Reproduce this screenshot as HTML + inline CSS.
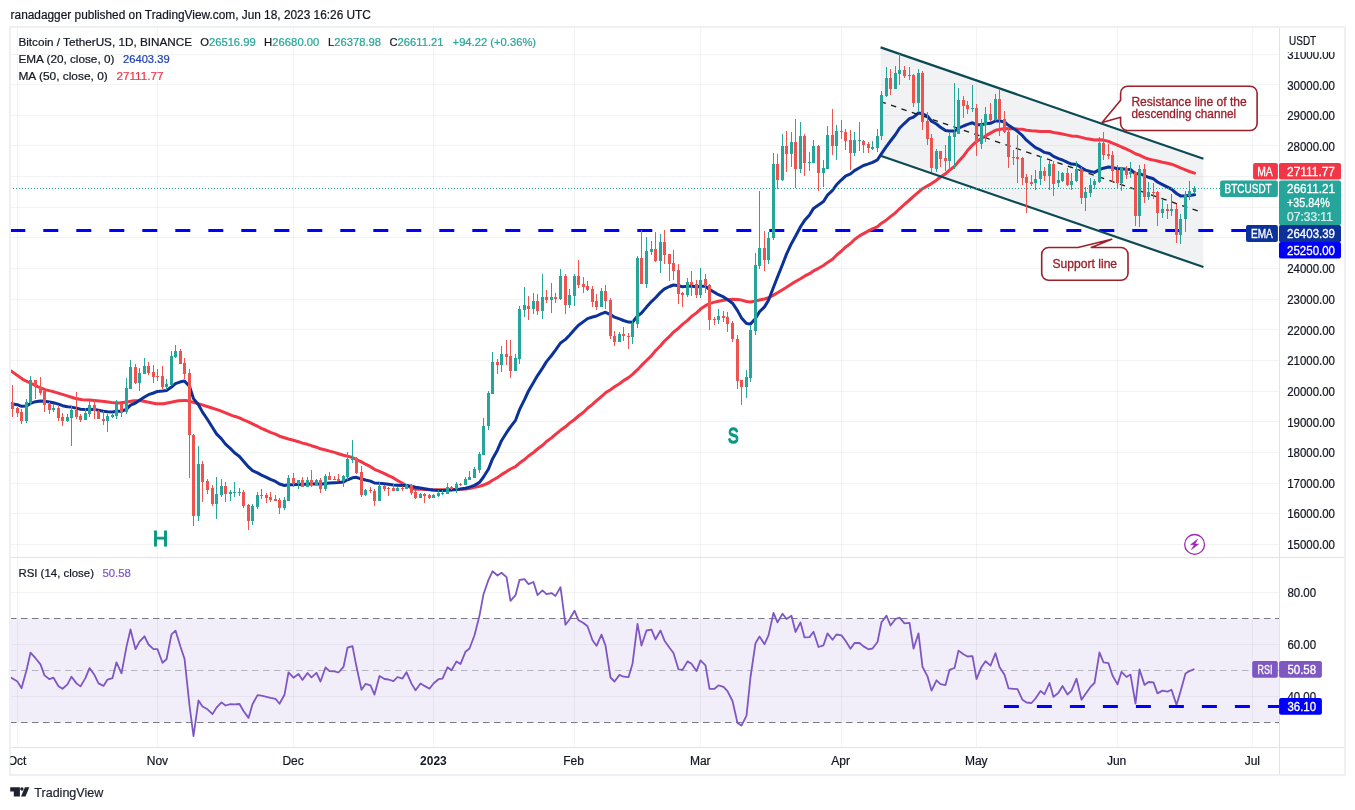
<!DOCTYPE html><html><head><meta charset="utf-8"><title>BTCUSDT chart</title><style>html,body{margin:0;padding:0;background:#fff}</style></head><body><svg width="1355" height="810" viewBox="0 0 1355 810" style="display:block;font-family:'Liberation Sans',sans-serif">
<rect width="1355" height="810" fill="#fff"/>
<defs><clipPath id="cm"><rect x="10" y="27" width="1269.5" height="530"/></clipPath><clipPath id="cr"><rect x="10" y="558" width="1269.5" height="189.5"/></clipPath><clipPath id="ct"><rect x="10.5" y="748" width="1269" height="27"/></clipPath><clipPath id="cp"><rect x="1280" y="52" width="65" height="500"/></clipPath></defs>
<path d="M17.5 27V747 M157.5 27V747 M293.5 27V747 M433.5 27V747 M574.5 27V747 M700.5 27V747 M841.5 27V747 M976.5 27V747 M1117.5 27V747 M1252.5 27V747" stroke="rgba(42,46,57,0.06)" stroke-width="1" fill="none"/>
<path d="M10 544.5H1279 M10 513.5H1279 M10 483.5H1279 M10 452.5H1279 M10 421.5H1279 M10 391.5H1279 M10 360.5H1279 M10 329.5H1279 M10 299.5H1279 M10 268.5H1279 M10 237.5H1279 M10 207.5H1279 M10 176.5H1279 M10 145.5H1279 M10 115.5H1279 M10 84.5H1279 M10 54.5H1279 M10 696.5H1279 M10 644.5H1279 M10 592.5H1279" stroke="rgba(42,46,57,0.06)" stroke-width="1" fill="none"/>
<rect x="10" y="618.5" width="1269.5" height="104.0" fill="#7e57c2" fill-opacity="0.1"/>
<path d="M10 618.5H1279.5M10 722.5H1279.5" stroke="#787b86" stroke-width="1" stroke-dasharray="6.5 4.5" fill="none"/>
<path d="M10 670.5H1279.5" stroke="#787b86" stroke-opacity="0.5" stroke-width="1" stroke-dasharray="6.5 4.5" fill="none"/>
<g clip-path="url(#cm)">
<path d="M880.6 47.4L1203.4 158.7L1203.4 267.0L880.6 155.8Z" fill="#787b86" fill-opacity="0.1"/>
<path d="M10.3 230.5H1246" stroke="#0000ff" stroke-width="3" stroke-dasharray="15 18" fill="none"/>
<path d="M5.0 366.5L10.2 370.4L22.8 379.3L30.2 383.0L37.6 386.7L45.0 389.6L52.4 391.4L59.9 393.6L67.3 395.9L74.7 398.2L82.1 399.7L89.5 400.0L96.9 400.7L104.3 401.6L111.7 402.5L119.1 403.0L126.5 401.9L133.9 400.7L141.3 400.7L148.7 402.2L156.1 403.7L163.6 403.7L171.0 402.2L178.4 400.7L185.8 400.4L193.2 402.2L200.6 404.4L208.0 406.7L219.4 410.4L231.7 415.3L234.5 416.3L239.5 417.9L243.5 419.8L248.5 421.8L252.5 423.9L257.5 426.2L261.5 428.4L266.5 430.5L270.5 432.4L275.5 434.2L279.5 436.2L284.5 437.8L288.5 439.0L293.5 440.3L298.5 441.7L302.5 443.1L307.5 444.3L311.5 445.7L316.5 447.2L320.5 448.8L325.5 450.0L329.5 451.1L334.5 452.4L338.5 453.7L343.5 455.2L347.5 456.1L352.5 457.5L356.5 459.6L361.5 461.9L365.5 464.2L370.5 466.7L374.5 469.3L379.5 471.4L384.5 473.7L388.5 475.7L393.5 477.9L397.5 480.5L402.5 483.2L406.5 485.7L411.5 488.0L415.5 489.3L420.5 488.9L424.5 489.5L429.5 489.8L433.5 489.9L438.5 489.7L442.5 489.7L447.5 489.7L451.5 489.6L456.5 489.4L460.5 489.3L465.5 489.0L469.5 488.5L474.5 487.4L479.5 486.4L483.5 485.0L488.5 483.0L492.5 480.3L497.5 477.5L501.5 474.6L506.5 471.6L510.5 469.0L515.5 466.6L519.5 463.1L524.5 459.6L528.5 456.0L533.5 452.5L537.5 449.0L542.5 445.3L546.5 441.5L551.5 437.9L555.5 434.3L560.5 430.3L565.5 426.8L569.5 423.1L574.5 419.5L578.5 416.0L583.5 412.3L587.5 408.2L592.5 404.4L596.5 400.7L601.5 396.5L605.5 392.8L610.5 389.7L614.5 386.8L619.5 383.7L623.5 380.6L628.5 377.6L632.5 374.4L637.5 369.7L641.5 365.4L646.5 360.5L651.5 355.6L655.5 350.8L660.5 345.8L664.5 341.0L669.5 336.4L673.5 332.1L678.5 328.2L682.5 324.4L687.5 320.4L691.5 316.5L696.5 312.9L700.5 309.1L705.5 305.7L709.5 303.6L714.5 302.1L718.5 301.2L723.5 300.3L727.5 299.7L732.5 299.3L737.5 299.5L741.5 300.1L746.5 301.5L750.5 302.0L755.5 301.1L759.5 300.0L764.5 299.0L768.5 297.8L773.5 295.1L777.5 292.8L782.5 289.7L786.5 287.3L791.5 284.0L795.5 281.5L800.5 278.7L804.5 276.2L809.5 273.7L813.5 270.9L818.5 268.3L823.5 265.5L827.5 262.4L832.5 259.3L836.5 255.2L841.5 251.0L845.5 247.1L850.5 243.5L854.5 239.5L859.5 235.9L863.5 233.6L868.5 230.9L872.5 228.8L877.5 226.6L881.5 223.2L886.5 219.9L890.5 216.6L895.5 212.8L899.5 208.8L904.5 204.4L909.5 200.0L913.5 196.4L918.5 192.2L922.5 188.7L927.5 185.9L931.5 183.6L936.5 180.2L940.5 177.0L945.5 173.8L949.5 170.2L954.5 166.4L958.5 161.6L963.5 156.1L967.5 150.5L972.5 145.1L976.5 141.4L981.5 138.6L985.5 135.9L990.5 133.1L995.5 130.3L999.5 129.5L1004.5 128.5L1008.5 128.7L1013.5 128.8L1017.5 129.1L1022.5 129.3L1026.5 130.2L1031.5 130.7L1035.5 131.0L1040.5 131.5L1044.5 131.6L1049.5 131.5L1053.5 132.5L1058.5 133.2L1062.5 134.0L1067.5 135.1L1071.5 135.9L1076.5 136.2L1081.5 137.4L1085.5 138.4L1090.5 139.2L1094.5 139.9L1099.5 139.8L1103.5 140.1L1108.5 141.4L1112.5 143.2L1117.5 145.1L1121.5 147.0L1126.5 149.1L1130.5 151.0L1135.5 153.8L1139.5 155.1L1144.5 157.6L1148.5 159.0L1153.5 160.1L1157.5 161.0L1162.5 162.2L1167.5 163.2L1171.5 164.2L1176.5 166.2L1180.5 167.9L1185.5 169.8L1189.5 171.5L1194.5 173.1" stroke="#f23645" stroke-width="3" fill="none" stroke-linejoin="round" stroke-linecap="round"/>
<path d="M5.0 403.0L12.5 403.9L17.5 404.7L21.5 406.3L26.5 405.9L30.5 403.4L35.5 401.7L40.5 400.9L44.5 401.3L49.5 402.1L53.5 402.7L58.5 404.1L62.5 405.7L67.5 406.8L71.5 407.1L76.5 408.1L80.5 409.2L85.5 409.6L89.5 409.2L94.5 409.4L98.5 410.2L103.5 411.2L107.5 411.7L112.5 412.0L116.5 411.3L121.5 411.3L126.5 409.1L130.5 405.1L135.5 403.0L139.5 400.2L144.5 397.0L148.5 394.7L153.5 393.0L157.5 391.4L162.5 391.0L166.5 390.4L171.5 387.1L175.5 383.7L180.5 381.8L184.5 381.1L189.5 386.2L193.5 398.6L198.5 404.8L202.5 412.1L207.5 419.5L212.5 427.5L216.5 433.9L221.5 438.9L225.5 444.1L230.5 448.6L234.5 452.8L239.5 456.5L243.5 461.2L248.5 466.9L252.5 470.6L257.5 472.9L261.5 475.1L266.5 477.3L270.5 479.4L275.5 481.4L279.5 484.0L284.5 485.5L288.5 484.8L293.5 484.7L298.5 484.3L302.5 484.5L307.5 484.1L311.5 484.1L316.5 483.8L320.5 484.3L325.5 483.5L329.5 483.1L334.5 482.8L338.5 482.6L343.5 482.0L347.5 479.8L352.5 477.8L356.5 477.3L361.5 479.0L365.5 480.0L370.5 481.1L374.5 483.0L379.5 483.3L384.5 483.8L388.5 484.3L393.5 484.9L397.5 485.2L402.5 485.6L406.5 485.5L411.5 486.2L415.5 487.3L420.5 488.0L424.5 488.7L429.5 489.6L433.5 490.1L438.5 490.4L442.5 490.6L447.5 490.3L451.5 490.1L456.5 489.5L460.5 489.1L465.5 488.2L469.5 487.1L474.5 485.4L479.5 482.4L483.5 477.0L488.5 469.0L492.5 458.9L497.5 449.9L501.5 440.7L506.5 432.7L510.5 426.8L515.5 420.3L519.5 409.7L524.5 399.7L528.5 391.0L533.5 382.5L537.5 375.6L542.5 368.1L546.5 361.6L551.5 355.5L555.5 350.1L560.5 343.0L565.5 339.4L569.5 335.2L574.5 329.6L578.5 325.3L583.5 321.6L587.5 318.6L592.5 317.0L596.5 316.0L601.5 313.6L605.5 312.3L610.5 314.6L614.5 317.2L619.5 318.9L623.5 320.5L628.5 322.1L632.5 322.2L637.5 316.0L641.5 313.0L646.5 307.1L651.5 301.6L655.5 297.7L660.5 292.4L664.5 288.8L669.5 286.5L673.5 285.0L678.5 285.8L682.5 286.7L687.5 286.2L691.5 286.1L696.5 287.0L700.5 286.3L705.5 286.3L709.5 289.5L714.5 292.4L718.5 294.7L723.5 296.9L727.5 299.5L732.5 303.2L737.5 310.6L741.5 317.9L746.5 323.5L750.5 324.1L755.5 318.5L759.5 311.8L764.5 306.9L768.5 300.3L773.5 287.3L777.5 277.0L782.5 264.5L786.5 254.1L791.5 243.4L795.5 236.3L800.5 226.7L804.5 220.6L809.5 215.0L813.5 208.4L818.5 205.0L823.5 201.5L827.5 195.1L832.5 190.4L836.5 184.8L841.5 179.8L845.5 176.1L850.5 173.9L854.5 170.6L859.5 167.7L863.5 165.5L868.5 163.9L872.5 162.3L877.5 159.8L881.5 153.6L886.5 146.4L890.5 141.0L895.5 134.5L899.5 128.3L904.5 123.3L909.5 118.7L913.5 117.2L918.5 113.0L922.5 113.8L927.5 116.2L931.5 121.2L936.5 124.0L940.5 127.3L945.5 130.5L949.5 131.0L954.5 131.1L958.5 128.2L963.5 126.0L967.5 124.4L972.5 122.8L976.5 124.8L981.5 124.7L985.5 123.7L990.5 123.3L995.5 121.0L999.5 120.9L1004.5 122.0L1008.5 125.3L1013.5 128.4L1017.5 131.3L1022.5 135.7L1026.5 140.2L1031.5 144.4L1035.5 147.7L1040.5 149.9L1044.5 152.4L1049.5 153.5L1053.5 156.4L1058.5 158.6L1062.5 160.0L1067.5 162.4L1071.5 164.1L1076.5 164.6L1081.5 167.8L1085.5 170.1L1090.5 171.5L1094.5 172.4L1099.5 169.6L1103.5 168.2L1108.5 167.0L1112.5 167.4L1117.5 168.8L1121.5 168.7L1126.5 169.3L1130.5 169.5L1135.5 173.9L1139.5 173.5L1144.5 175.7L1148.5 177.3L1153.5 178.8L1157.5 182.0L1162.5 184.6L1167.5 187.1L1171.5 189.2L1176.5 193.5L1180.5 195.9L1185.5 195.8L1189.5 195.4L1194.5 194.8" stroke="#0c3299" stroke-width="3" fill="none" stroke-linejoin="round" stroke-linecap="round"/>
<path d="M880.6 47.4L1203.4 158.7M880.6 155.8L1203.4 267.0" stroke="#0c4a55" stroke-width="2.2" fill="none"/>
<path d="M880.6 101.60000000000001L1198.5 211.2" stroke="#1a1a1a" stroke-width="1.3" stroke-dasharray="5.5 5.5" fill="none"/>
<path d="M10 188.5H1279.5" stroke="#26a69a" stroke-width="1" stroke-dasharray="1 2" fill="none"/>
<path d="M26.5 399V423M30.5 376V405M53.5 404V412M67.5 414V422M71.5 406V446M85.5 408V420M89.5 401V417M107.5 414V432M112.5 414V418M116.5 400V419M126.5 378V414M130.5 360V389M139.5 368V391M144.5 358V374M166.5 379V390M171.5 351V385M175.5 345V358M198.5 446V521M216.5 477V519M221.5 479V497M230.5 490V501M234.5 482V497M239.5 488V496M252.5 504V525M257.5 492V509M284.5 497V510M288.5 475V501M298.5 480V489M307.5 477V487M316.5 479V486M325.5 474V491M343.5 475V487M347.5 452V480M352.5 440V463M365.5 489V496M379.5 482V501M397.5 487V491M406.5 484V489M420.5 493V498M433.5 494V498M438.5 490V497M442.5 490V495M447.5 483V494M456.5 482V493M465.5 477V485M469.5 471V480M474.5 467V478M479.5 452V473M483.5 418V455M488.5 391V430M492.5 352V394M501.5 346V372M515.5 354V371M519.5 306V364M524.5 287V317M533.5 293V314M542.5 274V319M551.5 283V313M560.5 269V300M569.5 289V308M574.5 274V306M601.5 288V307M619.5 332V342M632.5 320V344M637.5 256V328M646.5 237V288M651.5 241V255M660.5 234V273M687.5 278V297M700.5 268V298M718.5 309V324M746.5 370V398M750.5 325V382M755.5 253V335M759.5 191V269M768.5 232V264M773.5 153V240M782.5 134V181M791.5 132V167M800.5 122V173M809.5 152V171M813.5 140V163M823.5 160V187M827.5 126V169M836.5 125V160M854.5 132V156M859.5 122V151M872.5 141V150M877.5 129V152M881.5 91V140M886.5 67V97M895.5 66V89M899.5 54V85M909.5 67V80M918.5 69V112M936.5 149V172M949.5 133V170M954.5 83V169M958.5 88V134M972.5 85V112M981.5 119V149M985.5 107V142M995.5 94V121M1035.5 170V190M1040.5 156V185M1049.5 160V190M1058.5 171V187M1062.5 172V182M1071.5 173V190M1076.5 161V182M1085.5 187V211M1090.5 178V197M1094.5 179V189M1099.5 137V183M1121.5 167V191M1130.5 162V178M1139.5 165V227M1148.5 182V200M1162.5 200V218M1171.5 194V216M1180.5 214V244M1185.5 191V232M1189.5 181V200M1194.5 186V193" stroke="#26a69a" stroke-width="1" fill="none"/><path d="M12.5 385V417M17.5 407V417M21.5 409V424M35.5 380V399M40.5 377V395M44.5 390V412M49.5 402V414M58.5 405V421M62.5 413V426M76.5 392V419M80.5 414V422M94.5 400V419M98.5 410V419M103.5 411V425M121.5 403V417M135.5 364V384M148.5 362V375M153.5 365V383M157.5 369V381M162.5 366V389M180.5 349V364M184.5 358V379M189.5 369V478M193.5 434V526M202.5 461V502M207.5 479V494M212.5 485V506M225.5 482V502M243.5 490V508M248.5 504V530M261.5 489V499M266.5 493V503M270.5 492V502M275.5 495V501M279.5 498V514M293.5 473V487M302.5 477V487M311.5 470V487M320.5 478V493M329.5 472V480M334.5 476V480M338.5 474V481M356.5 457V474M361.5 466V497M370.5 487V493M374.5 489V506M384.5 485V491M388.5 487V496M393.5 484V491M402.5 486V491M411.5 484V495M415.5 490V499M424.5 493V503M429.5 494V499M451.5 486V490M460.5 483V486M497.5 359V374M506.5 340V365M510.5 340V378M528.5 296V320M537.5 294V315M546.5 290V303M555.5 293V303M565.5 274V314M578.5 260V288M583.5 277V293M587.5 281V291M592.5 286V307M596.5 294V310M605.5 285V309M610.5 298V339M614.5 331V346M623.5 327V341M628.5 333V349M641.5 230V284M655.5 232V262M664.5 230V264M669.5 254V281M673.5 250V280M678.5 264V304M682.5 292V307M691.5 271V296M696.5 280V298M705.5 274V293M709.5 284V330M714.5 317V325M723.5 311V322M727.5 312V332M732.5 321V342M737.5 335V389M741.5 380V405M764.5 231V271M777.5 154V189M786.5 131V172M795.5 119V188M804.5 134V176M818.5 145V191M832.5 109V155M841.5 120V139M845.5 129V150M850.5 130V170M863.5 140V153M868.5 142V153M890.5 69V95M904.5 66V78M913.5 74V107M922.5 71V130M927.5 112V145M931.5 134V172M940.5 151V167M945.5 145V171M963.5 96V118M967.5 101V114M976.5 104V156M990.5 103V122M999.5 90V136M1004.5 111V133M1008.5 127V168M1013.5 150V165M1017.5 135V183M1022.5 157V185M1026.5 174V213M1031.5 175V186M1044.5 167V181M1053.5 161V196M1067.5 168V186M1081.5 167V204M1103.5 132V160M1108.5 144V159M1112.5 151V182M1117.5 165V188M1126.5 166V179M1135.5 171V226M1144.5 164V203M1153.5 183V199M1157.5 191V226M1167.5 204V219M1176.5 204V243" stroke="#ef5350" stroke-width="1" fill="none"/><path d="M25 402h3V421h-3ZM29 380h3V403h-3ZM52 408h3V410h-3ZM66 417h3V421h-3ZM70 410h3V418h-3ZM84 413h3V420h-3ZM88 405h3V414h-3ZM106 416h3V421h-3ZM111 415h3V417h-3ZM115 404h3V416h-3ZM125 388h3V412h-3ZM129 367h3V389h-3ZM138 373h3V383h-3ZM143 366h3V374h-3ZM165 384h3V387h-3ZM170 356h3V385h-3ZM174 351h3V357h-3ZM197 464h3V516h-3ZM215 494h3V504h-3ZM220 486h3V495h-3ZM229 492h3V494h-3ZM233 492h3V493h-3ZM238 492h3V493h-3ZM251 506h3V521h-3ZM256 495h3V507h-3ZM283 500h3V508h-3ZM287 478h3V501h-3ZM297 480h3V484h-3ZM306 480h3V487h-3ZM315 480h3V485h-3ZM324 476h3V489h-3ZM342 476h3V481h-3ZM346 459h3V477h-3ZM351 458h3V460h-3ZM364 490h3V495h-3ZM378 486h3V501h-3ZM396 488h3V491h-3ZM405 485h3V489h-3ZM419 494h3V498h-3ZM432 495h3V498h-3ZM437 493h3V496h-3ZM441 493h3V494h-3ZM446 487h3V494h-3ZM455 484h3V489h-3ZM464 479h3V485h-3ZM468 477h3V480h-3ZM473 469h3V478h-3ZM478 454h3V470h-3ZM482 426h3V455h-3ZM487 393h3V426h-3ZM491 362h3V394h-3ZM500 354h3V365h-3ZM514 358h3V371h-3ZM518 309h3V359h-3ZM523 305h3V310h-3ZM532 301h3V309h-3ZM541 297h3V311h-3ZM550 297h3V300h-3ZM559 276h3V299h-3ZM568 295h3V305h-3ZM573 276h3V296h-3ZM600 291h3V307h-3ZM618 334h3V342h-3ZM631 323h3V337h-3ZM636 258h3V324h-3ZM645 251h3V284h-3ZM650 249h3V252h-3ZM659 242h3V261h-3ZM686 282h3V295h-3ZM699 280h3V295h-3ZM717 316h3V320h-3ZM745 377h3V387h-3ZM749 330h3V378h-3ZM754 265h3V331h-3ZM758 248h3V266h-3ZM767 238h3V260h-3ZM772 164h3V238h-3ZM781 146h3V180h-3ZM790 142h3V154h-3ZM799 136h3V169h-3ZM808 162h3V163h-3ZM812 146h3V163h-3ZM822 168h3V173h-3ZM826 135h3V169h-3ZM835 131h3V146h-3ZM853 140h3V153h-3ZM858 140h3V141h-3ZM871 147h3V149h-3ZM876 136h3V148h-3ZM880 95h3V136h-3ZM885 78h3V96h-3ZM894 73h3V89h-3ZM898 70h3V74h-3ZM908 75h3V76h-3ZM917 73h3V103h-3ZM935 151h3V169h-3ZM948 136h3V161h-3ZM953 132h3V137h-3ZM957 100h3V134h-3ZM971 108h3V109h-3ZM980 124h3V144h-3ZM984 114h3V125h-3ZM994 99h3V120h-3ZM1034 179h3V183h-3ZM1039 171h3V179h-3ZM1048 164h3V176h-3ZM1057 180h3V183h-3ZM1061 173h3V181h-3ZM1070 181h3V185h-3ZM1075 169h3V181h-3ZM1084 192h3V198h-3ZM1089 185h3V193h-3ZM1093 181h3V185h-3ZM1098 143h3V182h-3ZM1120 168h3V183h-3ZM1129 172h3V174h-3ZM1138 169h3V216h-3ZM1147 192h3V197h-3ZM1161 209h3V213h-3ZM1170 209h3V211h-3ZM1179 219h3V235h-3ZM1184 195h3V219h-3ZM1188 191h3V196h-3ZM1193 188h3V192h-3Z" fill="#26a69a"/><path d="M11 403h3V409h-3ZM16 408h3V413h-3ZM20 412h3V421h-3ZM34 380h3V386h-3ZM39 387h3V393h-3ZM43 391h3V405h-3ZM48 404h3V410h-3ZM57 408h3V418h-3ZM61 417h3V421h-3ZM75 410h3V417h-3ZM79 416h3V420h-3ZM93 405h3V411h-3ZM97 411h3V419h-3ZM102 419h3V421h-3ZM120 404h3V412h-3ZM134 367h3V383h-3ZM147 366h3V373h-3ZM152 372h3V377h-3ZM156 376h3V377h-3ZM161 376h3V387h-3ZM179 351h3V364h-3ZM183 363h3V374h-3ZM188 373h3V435h-3ZM192 435h3V516h-3ZM201 464h3V482h-3ZM206 481h3V490h-3ZM211 488h3V504h-3ZM224 486h3V494h-3ZM242 492h3V506h-3ZM247 505h3V521h-3ZM260 495h3V496h-3ZM265 495h3V498h-3ZM269 497h3V500h-3ZM274 499h3V501h-3ZM278 500h3V508h-3ZM292 478h3V484h-3ZM301 480h3V487h-3ZM310 480h3V485h-3ZM319 480h3V489h-3ZM328 476h3V480h-3ZM333 479h3V480h-3ZM337 479h3V481h-3ZM355 458h3V473h-3ZM360 472h3V495h-3ZM369 490h3V491h-3ZM373 491h3V501h-3ZM383 486h3V489h-3ZM387 488h3V489h-3ZM392 488h3V491h-3ZM401 488h3V489h-3ZM410 485h3V493h-3ZM414 492h3V498h-3ZM423 494h3V496h-3ZM428 495h3V498h-3ZM450 487h3V489h-3ZM459 484h3V485h-3ZM496 362h3V365h-3ZM505 354h3V357h-3ZM509 356h3V371h-3ZM527 306h3V309h-3ZM536 301h3V311h-3ZM545 297h3V300h-3ZM554 297h3V299h-3ZM564 276h3V305h-3ZM577 276h3V285h-3ZM582 284h3V287h-3ZM586 286h3V290h-3ZM591 289h3V302h-3ZM595 301h3V307h-3ZM604 291h3V301h-3ZM609 300h3V336h-3ZM613 336h3V342h-3ZM622 334h3V336h-3ZM627 336h3V337h-3ZM640 258h3V284h-3ZM654 249h3V261h-3ZM663 242h3V255h-3ZM668 254h3V264h-3ZM672 263h3V271h-3ZM677 270h3V294h-3ZM681 293h3V295h-3ZM690 282h3V285h-3ZM695 284h3V295h-3ZM704 279h3V286h-3ZM708 285h3V320h-3ZM713 319h3V320h-3ZM722 316h3V318h-3ZM726 317h3V324h-3ZM731 323h3V339h-3ZM736 339h3V381h-3ZM740 380h3V387h-3ZM763 248h3V260h-3ZM776 164h3V180h-3ZM785 146h3V154h-3ZM794 142h3V169h-3ZM803 136h3V163h-3ZM817 146h3V173h-3ZM831 135h3V146h-3ZM840 131h3V132h-3ZM844 132h3V141h-3ZM849 140h3V153h-3ZM862 141h3V145h-3ZM867 144h3V148h-3ZM889 78h3V89h-3ZM903 70h3V76h-3ZM912 75h3V103h-3ZM921 73h3V122h-3ZM926 121h3V139h-3ZM930 138h3V168h-3ZM939 151h3V159h-3ZM944 158h3V161h-3ZM962 100h3V106h-3ZM966 105h3V109h-3ZM975 108h3V143h-3ZM989 114h3V120h-3ZM998 99h3V120h-3ZM1003 119h3V132h-3ZM1007 132h3V157h-3ZM1012 157h3V158h-3ZM1016 157h3V159h-3ZM1021 158h3V178h-3ZM1025 177h3V183h-3ZM1030 182h3V184h-3ZM1043 171h3V176h-3ZM1052 164h3V184h-3ZM1066 173h3V185h-3ZM1080 169h3V198h-3ZM1102 143h3V155h-3ZM1107 154h3V156h-3ZM1111 155h3V171h-3ZM1116 170h3V183h-3ZM1125 168h3V175h-3ZM1134 172h3V216h-3ZM1143 169h3V197h-3ZM1152 192h3V193h-3ZM1156 192h3V213h-3ZM1166 209h3V211h-3ZM1175 209h3V235h-3Z" fill="#ef5350"/>
</g>
<g clip-path="url(#cr)">
<path d="M8.5 676.0L12.5 678.5L17.5 681.6L21.5 688.3L26.5 670.3L30.5 652.7L35.5 658.2L40.5 664.4L44.5 675.4L49.5 679.2L53.5 677.7L58.5 686.2L62.5 688.8L67.5 684.4L71.5 676.7L76.5 683.4L80.5 686.4L85.5 677.9L89.5 668.1L94.5 675.1L98.5 683.4L103.5 685.9L107.5 679.6L112.5 678.1L116.5 662.3L121.5 673.3L126.5 646.6L130.5 629.5L135.5 649.2L139.5 641.6L144.5 636.3L148.5 644.5L153.5 649.2L157.5 649.2L162.5 662.8L166.5 659.3L171.5 634.4L175.5 630.6L180.5 646.8L184.5 658.7L189.5 705.5L193.5 736.1L198.5 700.4L202.5 706.5L207.5 709.3L212.5 714.1L216.5 707.6L221.5 702.4L225.5 705.5L230.5 704.1L234.5 704.3L239.5 704.0L243.5 711.0L248.5 717.9L252.5 704.3L257.5 695.1L261.5 695.6L266.5 696.8L270.5 697.9L275.5 698.8L279.5 703.7L284.5 694.8L288.5 672.3L293.5 677.7L298.5 674.0L302.5 679.9L307.5 673.0L311.5 677.4L316.5 672.8L320.5 681.5L325.5 667.5L329.5 671.2L334.5 671.4L338.5 672.5L343.5 666.9L347.5 647.7L352.5 646.2L356.5 666.8L361.5 689.8L365.5 683.9L370.5 685.4L374.5 694.6L379.5 676.0L384.5 679.0L388.5 679.5L393.5 681.2L397.5 677.0L402.5 678.6L406.5 672.2L411.5 683.6L415.5 690.3L420.5 683.5L424.5 685.9L429.5 688.7L433.5 683.5L438.5 679.2L442.5 678.6L447.5 667.3L451.5 670.3L456.5 661.4L460.5 664.1L465.5 651.7L469.5 648.5L474.5 635.3L479.5 615.6L483.5 594.2L488.5 579.8L492.5 571.3L497.5 575.5L501.5 572.8L506.5 577.1L510.5 600.9L515.5 595.2L519.5 580.0L524.5 579.1L528.5 584.1L533.5 582.0L537.5 595.1L542.5 590.4L546.5 594.2L551.5 593.1L555.5 595.9L560.5 587.2L565.5 624.8L569.5 619.5L574.5 610.7L578.5 620.3L583.5 623.0L587.5 626.2L592.5 640.2L596.5 645.8L601.5 634.6L605.5 645.6L610.5 677.5L614.5 681.5L619.5 674.9L623.5 676.7L628.5 677.2L632.5 663.8L637.5 623.9L641.5 645.5L646.5 630.5L651.5 629.6L655.5 639.3L660.5 630.5L664.5 640.7L669.5 647.8L673.5 653.0L678.5 669.4L682.5 669.9L687.5 661.4L691.5 663.7L696.5 671.1L700.5 660.4L705.5 665.3L709.5 688.8L714.5 688.8L718.5 685.4L723.5 686.9L727.5 691.2L732.5 701.0L737.5 723.0L741.5 725.6L746.5 715.6L750.5 677.0L755.5 643.2L759.5 636.5L764.5 644.2L768.5 635.4L773.5 612.9L777.5 622.4L782.5 613.7L786.5 619.0L791.5 615.7L795.5 632.0L800.5 622.4L804.5 637.4L809.5 637.1L813.5 631.8L818.5 647.0L823.5 645.3L827.5 633.4L832.5 639.8L836.5 634.5L841.5 635.4L845.5 640.8L850.5 648.8L854.5 643.0L859.5 643.0L863.5 646.4L868.5 649.3L872.5 648.5L877.5 642.0L881.5 622.2L886.5 615.6L890.5 625.5L895.5 619.0L899.5 617.7L904.5 623.4L909.5 622.9L913.5 648.7L918.5 633.3L922.5 666.8L927.5 676.3L931.5 690.6L936.5 680.3L940.5 684.1L945.5 685.1L949.5 669.9L954.5 668.0L958.5 650.6L963.5 654.3L967.5 656.5L972.5 656.1L976.5 679.1L981.5 666.9L985.5 661.3L990.5 665.6L995.5 653.2L999.5 666.9L1004.5 674.8L1008.5 688.3L1013.5 688.8L1017.5 689.2L1022.5 699.8L1026.5 702.5L1031.5 703.0L1035.5 698.5L1040.5 690.9L1044.5 694.2L1049.5 683.0L1053.5 696.9L1058.5 692.7L1062.5 686.0L1067.5 694.5L1071.5 690.7L1076.5 678.7L1081.5 699.7L1085.5 693.9L1090.5 686.9L1094.5 683.0L1099.5 652.5L1103.5 662.3L1108.5 663.2L1112.5 675.5L1117.5 684.4L1121.5 671.8L1126.5 677.0L1130.5 674.6L1135.5 703.7L1139.5 669.4L1144.5 684.9L1148.5 682.0L1153.5 682.4L1157.5 693.4L1162.5 690.6L1167.5 691.6L1171.5 689.8L1176.5 704.9L1180.5 691.6L1185.5 673.5L1189.5 671.1L1194.5 669.0" stroke="#7e57c2" stroke-width="1.8" fill="none" stroke-linejoin="round"/>
<path d="M1003.9 706.5H1279.5" stroke="#0000ff" stroke-width="3" stroke-dasharray="15 18" fill="none"/>
</g>
<path d="M10 557.5H1345M10 747.5H1345M1279.5 27V775" stroke="#e0e3eb" stroke-width="1" fill="none"/>
<rect x="10" y="27" width="1335" height="748" fill="none" stroke="#eef0f6" stroke-width="2"/>
<text x="10.6" y="19.2" font-size="12" fill="#131722" text-anchor="start" font-weight="normal" textLength="360.3" lengthAdjust="spacingAndGlyphs" stroke="#131722" stroke-width="0.22">ranadagger published on TradingView.com, Jun 18, 2023 16:26 UTC</text>
<text x="18.4" y="46.0" font-size="11.6" fill="#131722" text-anchor="start" font-weight="normal" textLength="173.6" lengthAdjust="spacingAndGlyphs" stroke="#131722" stroke-width="0.22">Bitcoin / TetherUS, 1D, BINANCE</text>
<text x="200.2" y="46" font-size="11.6" textLength="55.5" lengthAdjust="spacingAndGlyphs"><tspan fill="#131722" stroke="#131722" stroke-width="0.22">O</tspan><tspan fill="#26a69a" stroke="#26a69a" stroke-width="0.22">26516.99</tspan></text>
<text x="264.1" y="46" font-size="11.6" textLength="55.3" lengthAdjust="spacingAndGlyphs"><tspan fill="#131722" stroke="#131722" stroke-width="0.22">H</tspan><tspan fill="#26a69a" stroke="#26a69a" stroke-width="0.22">26680.00</tspan></text>
<text x="328.1" y="46" font-size="11.6" textLength="53.0" lengthAdjust="spacingAndGlyphs"><tspan fill="#131722" stroke="#131722" stroke-width="0.22">L</tspan><tspan fill="#26a69a" stroke="#26a69a" stroke-width="0.22">26378.98</tspan></text>
<text x="389.5" y="46" font-size="11.6" textLength="54.1" lengthAdjust="spacingAndGlyphs"><tspan fill="#131722" stroke="#131722" stroke-width="0.22">C</tspan><tspan fill="#26a69a" stroke="#26a69a" stroke-width="0.22">26611.21</tspan></text>
<text x="452.6" y="46.0" font-size="11.6" fill="#26a69a" text-anchor="start" font-weight="normal" textLength="83.5" lengthAdjust="spacingAndGlyphs" stroke="#26a69a" stroke-width="0.22">+94.22 (+0.36%)</text>
<text x="18.4" y="63.0" font-size="11.6" fill="#131722" text-anchor="start" font-weight="normal" textLength="96.0" lengthAdjust="spacingAndGlyphs" stroke="#131722" stroke-width="0.22">EMA (20, close, 0)</text>
<text x="123.0" y="63.0" font-size="11.6" fill="#1e3fae" text-anchor="start" font-weight="normal" textLength="46.6" lengthAdjust="spacingAndGlyphs" stroke="#1e3fae" stroke-width="0.22">26403.39</text>
<text x="18.4" y="80.0" font-size="11.6" fill="#131722" text-anchor="start" font-weight="normal" textLength="89.4" lengthAdjust="spacingAndGlyphs" stroke="#131722" stroke-width="0.22">MA (50, close, 0)</text>
<text x="116.4" y="80.0" font-size="11.6" fill="#f23645" text-anchor="start" font-weight="normal" textLength="47.2" lengthAdjust="spacingAndGlyphs" stroke="#f23645" stroke-width="0.22">27111.77</text>
<text x="18.4" y="577.2" font-size="11.6" fill="#131722" text-anchor="start" font-weight="normal" textLength="75.6" lengthAdjust="spacingAndGlyphs" stroke="#131722" stroke-width="0.22">RSI (14, close)</text>
<text x="102.4" y="577.2" font-size="11.6" fill="#7e57c2" text-anchor="start" font-weight="normal" textLength="28.4" lengthAdjust="spacingAndGlyphs" stroke="#7e57c2" stroke-width="0.22">50.58</text>
<text x="160.4" y="546.2" font-size="21.5" fill="#089981" text-anchor="middle" font-weight="normal" stroke="#089981" stroke-width="0.9">H</text>
<text x="733.2" y="443.2" font-size="22.7" fill="#089981" text-anchor="middle" font-weight="normal" textLength="10.6" lengthAdjust="spacingAndGlyphs" stroke="#089981" stroke-width="1.5" stroke-linejoin="round">S</text>
<circle cx="1194.6" cy="544.4" r="12" fill="#fff"/>
<circle cx="1194.6" cy="544.4" r="9.9" fill="none" stroke="#9c27b0" stroke-width="1.3"/>
<path d="M1197.7 539.1L1190.5 544.75H1194.25L1191.3 549.7L1198.7 544H1195Z" fill="#9c27b0" stroke="#9c27b0" stroke-width="0.5" stroke-linejoin="round"/>
<path d="M1127.6 86.2H1250.1a7 7 0 0 1 7 7V123.5a7 7 0 0 1 -7 7H1127.6a7 7 0 0 1 -7 -7V117.2L1102.1 122.4L1120.6 100.3V93.2a7 7 0 0 1 7 -7Z" fill="#fff" stroke="#9c1f2a" stroke-width="1.6" stroke-linejoin="round"/>
<text x="1131.4" y="105.7" font-size="12" fill="#9c1f2a" text-anchor="start" font-weight="normal" textLength="115.4" lengthAdjust="spacingAndGlyphs" stroke="#9c1f2a" stroke-width="0.3">Resistance line of the</text>
<text x="1131.4" y="117.5" font-size="12" fill="#9c1f2a" text-anchor="start" font-weight="normal" textLength="104.8" lengthAdjust="spacingAndGlyphs" stroke="#9c1f2a" stroke-width="0.3">descending channel</text>
<path d="M1048.7 247.5H1077.9L1111.7 239.3L1091.3 247.5H1121a7 7 0 0 1 7 7V273.3a7 7 0 0 1 -7 7H1048.7a7 7 0 0 1 -7 -7V254.5a7 7 0 0 1 7 -7Z" fill="#fff" stroke="#9c1f2a" stroke-width="1.6" stroke-linejoin="round"/>
<text x="1052.5" y="267.6" font-size="12" fill="#9c1f2a" text-anchor="start" font-weight="normal" textLength="64.6" lengthAdjust="spacingAndGlyphs" stroke="#9c1f2a" stroke-width="0.3">Support line</text>
<g clip-path="url(#cp)">
<text x="1287.2" y="549.0" font-size="12" fill="#131722" text-anchor="start" font-weight="normal" textLength="47.8" lengthAdjust="spacingAndGlyphs" stroke="#131722" stroke-width="0.22">15000.00</text>
<text x="1287.2" y="518.0" font-size="12" fill="#131722" text-anchor="start" font-weight="normal" textLength="47.8" lengthAdjust="spacingAndGlyphs" stroke="#131722" stroke-width="0.22">16000.00</text>
<text x="1287.2" y="488.0" font-size="12" fill="#131722" text-anchor="start" font-weight="normal" textLength="47.8" lengthAdjust="spacingAndGlyphs" stroke="#131722" stroke-width="0.22">17000.00</text>
<text x="1287.2" y="457.0" font-size="12" fill="#131722" text-anchor="start" font-weight="normal" textLength="47.8" lengthAdjust="spacingAndGlyphs" stroke="#131722" stroke-width="0.22">18000.00</text>
<text x="1287.2" y="427.0" font-size="12" fill="#131722" text-anchor="start" font-weight="normal" textLength="47.8" lengthAdjust="spacingAndGlyphs" stroke="#131722" stroke-width="0.22">19000.00</text>
<text x="1287.2" y="396.0" font-size="12" fill="#131722" text-anchor="start" font-weight="normal" textLength="47.8" lengthAdjust="spacingAndGlyphs" stroke="#131722" stroke-width="0.22">20000.00</text>
<text x="1287.2" y="365.0" font-size="12" fill="#131722" text-anchor="start" font-weight="normal" textLength="47.8" lengthAdjust="spacingAndGlyphs" stroke="#131722" stroke-width="0.22">21000.00</text>
<text x="1287.2" y="335.0" font-size="12" fill="#131722" text-anchor="start" font-weight="normal" textLength="47.8" lengthAdjust="spacingAndGlyphs" stroke="#131722" stroke-width="0.22">22000.00</text>
<text x="1287.2" y="304.0" font-size="12" fill="#131722" text-anchor="start" font-weight="normal" textLength="47.8" lengthAdjust="spacingAndGlyphs" stroke="#131722" stroke-width="0.22">23000.00</text>
<text x="1287.2" y="273.0" font-size="12" fill="#131722" text-anchor="start" font-weight="normal" textLength="47.8" lengthAdjust="spacingAndGlyphs" stroke="#131722" stroke-width="0.22">24000.00</text>
<text x="1287.2" y="151.0" font-size="12" fill="#131722" text-anchor="start" font-weight="normal" textLength="47.8" lengthAdjust="spacingAndGlyphs" stroke="#131722" stroke-width="0.22">28000.00</text>
<text x="1287.2" y="120.0" font-size="12" fill="#131722" text-anchor="start" font-weight="normal" textLength="47.8" lengthAdjust="spacingAndGlyphs" stroke="#131722" stroke-width="0.22">29000.00</text>
<text x="1287.2" y="90.0" font-size="12" fill="#131722" text-anchor="start" font-weight="normal" textLength="47.8" lengthAdjust="spacingAndGlyphs" stroke="#131722" stroke-width="0.22">30000.00</text>
<text x="1287.2" y="59.0" font-size="12" fill="#131722" text-anchor="start" font-weight="normal" textLength="47.8" lengthAdjust="spacingAndGlyphs" stroke="#131722" stroke-width="0.22">31000.00</text>
</g>
<text x="1289.0" y="45.0" font-size="12" fill="#131722" text-anchor="start" font-weight="normal" textLength="27.2" lengthAdjust="spacingAndGlyphs" stroke="#131722" stroke-width="0.22">USDT</text>
<text x="1287.4" y="701.0" font-size="12" fill="#131722" text-anchor="start" font-weight="normal" textLength="28.7" lengthAdjust="spacingAndGlyphs" stroke="#131722" stroke-width="0.22">40.00</text>
<text x="1287.4" y="649.0" font-size="12" fill="#131722" text-anchor="start" font-weight="normal" textLength="28.7" lengthAdjust="spacingAndGlyphs" stroke="#131722" stroke-width="0.22">60.00</text>
<text x="1287.4" y="597.0" font-size="12" fill="#131722" text-anchor="start" font-weight="normal" textLength="28.7" lengthAdjust="spacingAndGlyphs" stroke="#131722" stroke-width="0.22">80.00</text>
<rect x="1253.1" y="163" width="24.8" height="16.6" rx="2" fill="#f23645"/>
<rect x="1279" y="163" width="62.0" height="16.6" rx="2" fill="#f23645"/>
<text x="1257.2" y="176.0" font-size="12" fill="#fff" text-anchor="start" font-weight="normal" textLength="15.6" lengthAdjust="spacingAndGlyphs" stroke="#fff" stroke-width="0.3">MA</text>
<text x="1287.1" y="176.0" font-size="12" fill="#fff" text-anchor="start" font-weight="normal" textLength="47.9" lengthAdjust="spacingAndGlyphs" stroke="#fff" stroke-width="0.3">27111.77</text>
<rect x="1220.1" y="180.4" width="57.8" height="16.6" rx="2" fill="#26a69a"/>
<rect x="1279" y="180.4" width="62.0" height="44.8" rx="2" fill="#26a69a"/>
<text x="1224.6" y="193.0" font-size="12" fill="#fff" text-anchor="start" font-weight="normal" textLength="47.1" lengthAdjust="spacingAndGlyphs" stroke="#fff" stroke-width="0.3">BTCUSDT</text>
<text x="1287.1" y="193.0" font-size="12" fill="#fff" text-anchor="start" font-weight="normal" textLength="47.9" lengthAdjust="spacingAndGlyphs" stroke="#fff" stroke-width="0.3">26611.21</text>
<text x="1287.1" y="207.0" font-size="12" fill="#fff" text-anchor="start" font-weight="normal" textLength="42.7" lengthAdjust="spacingAndGlyphs" stroke="#fff" stroke-width="0.3">+35.84%</text>
<text x="1287.1" y="221.0" font-size="12" fill="#fff" text-anchor="start" font-weight="normal" textLength="45.7" lengthAdjust="spacingAndGlyphs" fill-opacity="0.75" stroke="#fff" stroke-width="0.22">07:33:11</text>
<rect x="1246" y="225" width="31.9" height="16.9" rx="2" fill="#0c3299"/>
<rect x="1279" y="225" width="62.0" height="17.2" rx="2" fill="#0c3299"/>
<text x="1251.0" y="238.0" font-size="12" fill="#fff" text-anchor="start" font-weight="normal" textLength="21.8" lengthAdjust="spacingAndGlyphs" stroke="#fff" stroke-width="0.3">EMA</text>
<text x="1287.1" y="238.0" font-size="12" fill="#fff" text-anchor="start" font-weight="normal" textLength="47.9" lengthAdjust="spacingAndGlyphs" stroke="#fff" stroke-width="0.3">26403.39</text>
<rect x="1279" y="242" width="62.0" height="16.6" rx="2" fill="#0000ff"/>
<text x="1287.1" y="255.0" font-size="12" fill="#fff" text-anchor="start" font-weight="normal" textLength="47.9" lengthAdjust="spacingAndGlyphs" stroke="#fff" stroke-width="0.3">25250.00</text>
<rect x="1252.2" y="661.1" width="25.6" height="16.7" rx="2" fill="#7e57c2"/>
<rect x="1279.1" y="661.1" width="42.8" height="16.7" rx="2" fill="#7e57c2"/>
<text x="1257.6" y="674.0" font-size="12" fill="#fff" text-anchor="start" font-weight="normal" textLength="15.0" lengthAdjust="spacingAndGlyphs" stroke="#fff" stroke-width="0.3">RSI</text>
<text x="1287.4" y="674.0" font-size="12" fill="#fff" text-anchor="start" font-weight="normal" textLength="28.7" lengthAdjust="spacingAndGlyphs" stroke="#fff" stroke-width="0.3">50.58</text>
<rect x="1279.1" y="698" width="42.8" height="16.7" rx="2" fill="#0000ff"/>
<text x="1287.4" y="711.0" font-size="12" fill="#fff" text-anchor="start" font-weight="normal" textLength="28.7" lengthAdjust="spacingAndGlyphs" stroke="#fff" stroke-width="0.3">36.10</text>
<g clip-path="url(#ct)">
<text x="17.1" y="765.0" font-size="12" fill="#131722" text-anchor="middle" font-weight="normal" stroke="#131722" stroke-width="0.22">Oct</text>
<text x="157.4" y="765.0" font-size="12" fill="#131722" text-anchor="middle" font-weight="normal" stroke="#131722" stroke-width="0.22">Nov</text>
<text x="293.1" y="765.0" font-size="12" fill="#131722" text-anchor="middle" font-weight="normal" stroke="#131722" stroke-width="0.22">Dec</text>
<text x="433.4" y="765.0" font-size="12" fill="#131722" text-anchor="middle" font-weight="bold" textLength="26.6" lengthAdjust="spacingAndGlyphs">2023</text>
<text x="573.6" y="765.0" font-size="12" fill="#131722" text-anchor="middle" font-weight="normal" stroke="#131722" stroke-width="0.22">Feb</text>
<text x="700.3" y="765.0" font-size="12" fill="#131722" text-anchor="middle" font-weight="normal" stroke="#131722" stroke-width="0.22">Mar</text>
<text x="840.6" y="765.0" font-size="12" fill="#131722" text-anchor="middle" font-weight="normal" stroke="#131722" stroke-width="0.22">Apr</text>
<text x="976.3" y="765.0" font-size="12" fill="#131722" text-anchor="middle" font-weight="normal" stroke="#131722" stroke-width="0.22">May</text>
<text x="1116.6" y="765.0" font-size="12" fill="#131722" text-anchor="middle" font-weight="normal" stroke="#131722" stroke-width="0.22">Jun</text>
<text x="1252.3" y="765.0" font-size="12" fill="#131722" text-anchor="middle" font-weight="normal" stroke="#131722" stroke-width="0.22">Jul</text>
</g>
<path d="M10.2 787.2H19.9V796.6H13.8V791.6H10.2Z" fill="#1e222d"/><circle cx="21.9" cy="789" r="1.7" fill="#1e222d"/><path d="M24.9 787.2H29.3L25.5 796.6H21Z" fill="#1e222d"/>
<text x="34.3" y="796.6" font-size="13" fill="#1e222d" text-anchor="start" font-weight="normal" textLength="69.0" lengthAdjust="spacingAndGlyphs" stroke="#1e222d" stroke-width="0.22">TradingView</text>
</svg></body></html>
